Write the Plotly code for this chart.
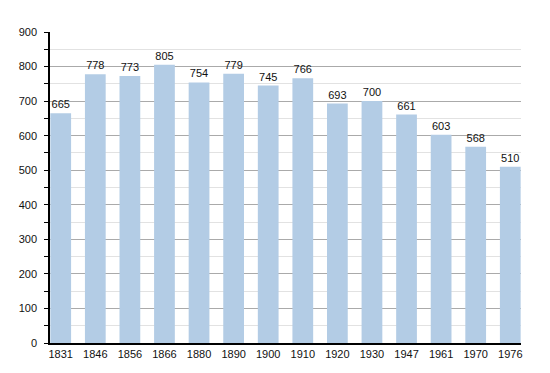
import plotly.graph_objects as go

years = ["1831", "1846", "1856", "1866", "1880", "1890", "1900", "1910", "1920", "1930", "1947", "1961", "1970", "1976"]
population = [665, 778, 773, 805, 754, 779, 745, 766, 693, 700, 661, 603, 568, 510]
y_ticks = [0, 100, 200, 300, 400, 500, 600, 700, 800, 900]

fig = go.Figure()
fig.add_trace(go.Bar(
    x=years, y=population,
    marker=dict(color="#b3cce5", line=dict(width=0)),
    width=0.6,
    text=[str(v) for v in population],
    textposition="outside",
    textfont=dict(size=11, color="#111111", family="Liberation Sans, Arial"),
    cliponaxis=False,
))

fig.update_layout(
    width=550, height=373,
    margin=dict(l=42, r=37, t=24, b=38),
    paper_bgcolor="white", plot_bgcolor="white",
    showlegend=False,
    font=dict(family="Liberation Sans, Arial", size=11, color="#111111"),
    bargap=0.4,
    uniformtext=dict(minsize=11, mode="show"),
)
fig.update_xaxes(
    type="category", range=[-0.31, 13.31],
    showline=True, linecolor="black", linewidth=1.5,
    ticks="", showgrid=False, tickfont=dict(size=11),
    ticklabelstandoff=0,
)
fig.update_yaxes(
    range=[0, 900], tickvals=y_ticks,
    showline=True, linecolor="black", linewidth=1.5,
    ticks="outside", ticklen=4, tickcolor="black",
    showgrid=True, gridcolor="#aaaaaa", gridwidth=1,
    minor=dict(dtick=50, showgrid=True, gridcolor="#e2e2e2", ticks="outside", ticklen=4, tickcolor="black"),
    zeroline=False, tickfont=dict(size=11),
    ticklabelstandoff=5,
)

fig.write_html("out.html")
